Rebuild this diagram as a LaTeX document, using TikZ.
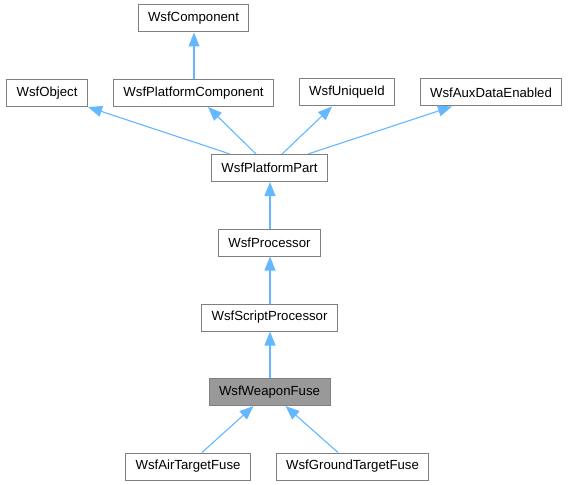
\documentclass[tikz,border=0pt]{standalone}
\usepackage{fontspec}
\setmainfont{Liberation Sans}
\usetikzlibrary{positioning,calc,arrows,arrows.meta}

\definecolor{boxgray}{HTML}{808080}
\definecolor{fusegray}{HTML}{999999}
\definecolor{inhblue}{HTML}{63B8FF}

\begin{document}
\begin{tikzpicture}[x=1bp, y=-1bp]
	\useasboundingbox (0,0) rectangle (568,485);
	\begin{scope}
		\tikzstyle{every node}=[draw=boxgray, line width=1bp, fill=white, align=center,
			inner xsep=10bp, inner ysep=0pt, minimum height=27bp,
			font=\fontsize{13.2bp}{15bp}\selectfont]
		\tikzstyle{inh}=[draw=inhblue, fill=inhblue, line width=1.1bp, -{Triangle[length=14bp, width=11bp]}]

		\node (comp)  at (193.5, 18.5) {WsfComponent};

		\node (obj)   at (47, 93)      {WsfObject};
		\node (pcomp) at (193.5, 93)   {WsfPlatformComponent};
		\node (uid)   at (347, 92.5)   {WsfUniqueId};
		\node (aux)   at (491, 92.5)   {WsfAuxDataEnabled};

		\node (ppart) at (269.5, 168)  {WsfPlatformPart};
		\node (proc)  at (269.5, 242.5) {WsfProcessor};
		\node (sproc) at (269.5, 317.5) {WsfScriptProcessor};
		\node (fuse)  at (269.5, 392) [fill=fusegray] {WsfWeaponFuse};

		\node (air)    at (188, 466.5)   {WsfAirTargetFuse};
		\node (ground) at (352.5, 466.5) {WsfGroundTargetFuse};


		\draw [inh] ([xshift=0.5bp]pcomp.north) to ([xshift=0.5bp]comp.south);

		\draw [inh] ([xshift=-39.5bp]ppart.north) to ([xshift=41bp]obj.south);
		\draw [inh] ([xshift=-13.5bp]ppart.north) to ([xshift=14.5bp]pcomp.south);
		\draw [inh] ([xshift=12.5bp]ppart.north) to ([xshift=-15bp]uid.south);
		\draw [inh] ([xshift=38.5bp]ppart.north) to ([xshift=-39bp]aux.south);

		\draw [inh] ([xshift=0.5bp]proc.north) to ([xshift=0.5bp]ppart.south);
		\draw [inh] ([xshift=0.5bp]sproc.north) to ([xshift=0.5bp]proc.south);
		\draw [inh] ([xshift=0.5bp]fuse.north) to ([xshift=0.5bp]sproc.south);

		\draw [inh] ([xshift=14bp]air.north) to ([xshift=-16bp]fuse.south);
		\draw [inh] ([xshift=-14.5bp]ground.north) to ([xshift=16bp]fuse.south);

	\end{scope}
\end{tikzpicture}
\end{document}
